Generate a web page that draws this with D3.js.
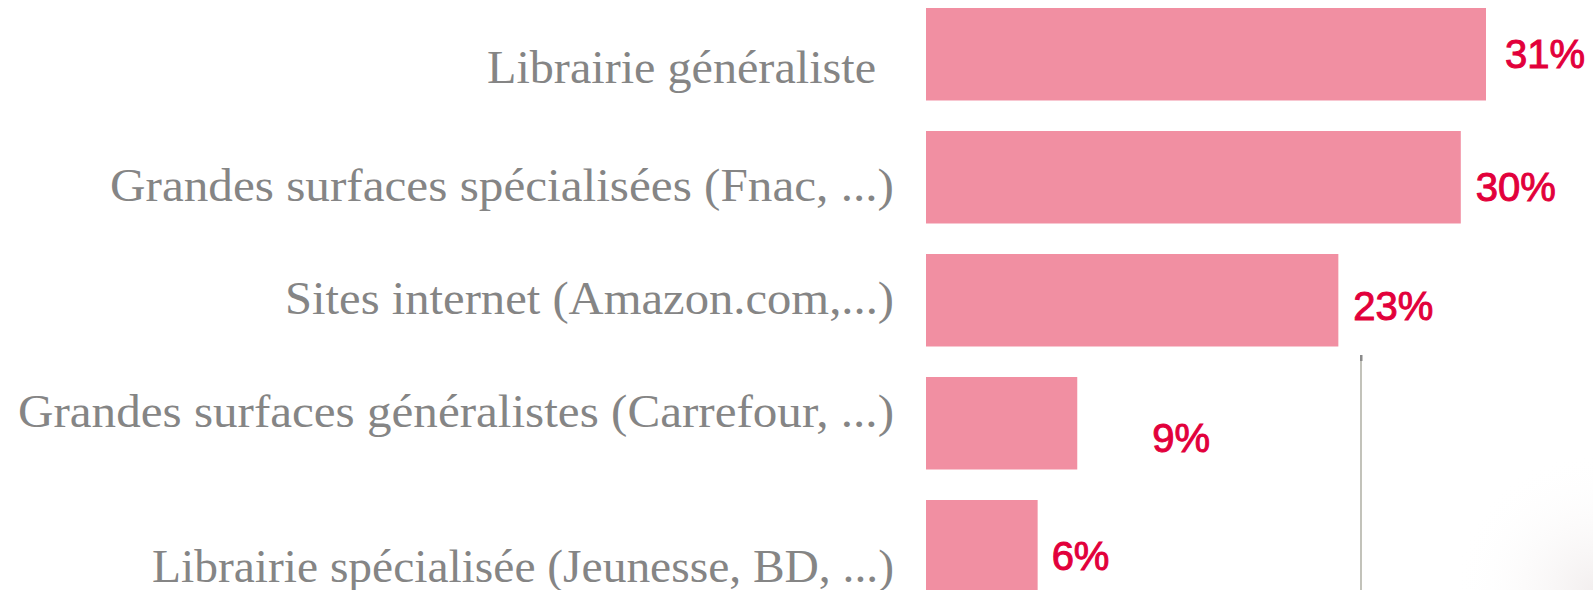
<!DOCTYPE html>
<html>
<head>
<meta charset="utf-8">
<script src="https://cdn.jsdelivr.net/npm/d3@7"></script>
<style>
  html, body { margin: 0; padding: 0; background: #fff; overflow: hidden; }
  svg { display: block; }
</style>
</head>
<body>
<svg id="svg_main"></svg>
<script>
// data
const categories = [
    'Librairie généraliste',
    'Grandes surfaces spécialisées (Fnac, ...)',
    'Sites internet (Amazon.com,...)',
    'Grandes surfaces généralistes (Carrefour, ...)',
    'Librairie spécialisée (Jeunesse, BD, ...)'
];
const values = [31.1, 29.7, 22.9, 8.4, 6.2];
const valueLabels = ['31%', '30%', '23%', '9%', '6%'];

// label nudges (the original slide placed them by hand)
const valueNudge = [[19, -1], [15, 9], [15, 5], [75, 14], [14, 9]];
const catNudge = [29, 24, 14, 4, 36];
const catLeft = [487, 110, 285, 18, 152];

const width = 1593, height = 590;

const svg = d3.select('#svg_main')
    .attr('width', width)
    .attr('height', height);

// faint sheen in the lower right corner
const defs = svg.append('defs');
const grad = defs.append('radialGradient')
    .attr('id', 'sheen')
    .attr('cx', '100%').attr('cy', '100%').attr('r', '60%');
grad.append('stop').attr('offset', '0%').attr('stop-color', '#f3efef');
grad.append('stop').attr('offset', '100%').attr('stop-color', '#ffffff').attr('stop-opacity', 0);
svg.append('rect')
    .attr('x', 1362).attr('y', 360)
    .attr('width', width - 1362).attr('height', height - 360)
    .attr('fill', 'url(#sheen)');

const x = d3.scaleLinear()
    .domain([0, d3.max(values)])
    .range([926, 1486]);

const y = d3.scaleBand()
    .domain(categories)
    .range([8, 592.5])
    .paddingInner(0.248)
    .paddingOuter(0);

// thin vertical rule
svg.append('line')
    .attr('x1', 1361).attr('x2', 1361)
    .attr('y1', 355).attr('y2', height)
    .attr('stroke', '#9a9a8c')
    .attr('stroke-width', 1.2);
svg.append('rect')
    .attr('x', 1360).attr('y', 355)
    .attr('width', 2.5).attr('height', 6)
    .attr('fill', '#8a8a8a');

const bars = svg.append('g').attr('class', 'bars');
bars.selectAll('rect')
    .data(values)
    .join('rect')
    .attr('x', x(0))
    .attr('y', (d, i) => y(categories[i]))
    .attr('width', d => x(d) - x(0))
    .attr('height', y.bandwidth())
    .attr('fill', '#f18fa2');

const vals = svg.append('g').attr('class', 'vals');
vals.selectAll('text')
    .data(values)
    .join('text')
    .attr('x', (d, i) => x(d) + valueNudge[i][0])
    .attr('y', (d, i) => y(categories[i]) + y.bandwidth() / 2 + valueNudge[i][1])
    .attr('dy', '0.36em')
    .attr('font-family', 'Liberation Sans, Arial, sans-serif')
    .attr('font-size', 40)
    .attr('fill', '#e2003b')
    .attr('stroke', '#e2003b')
    .attr('stroke-width', 1)
    .text((d, i) => valueLabels[i]);

const cats = svg.append('g').attr('class', 'cats');
cats.selectAll('text')
    .data(categories)
    .join('text')
    .attr('x', (d, i) => catLeft[i])
    .attr('y', d => y(d) + y.bandwidth() / 2 + catNudge[categories.indexOf(d)])
    .attr('font-family', 'Liberation Serif, Times New Roman, serif')
    .attr('font-size', 46)
    .attr('fill', '#858585')
    .attr('textLength', (d, i) => (i === 0 ? 876 : 894) - catLeft[i])
    .attr('lengthAdjust', 'spacingAndGlyphs')
    .text(d => d);
</script>
</body>
</html>
